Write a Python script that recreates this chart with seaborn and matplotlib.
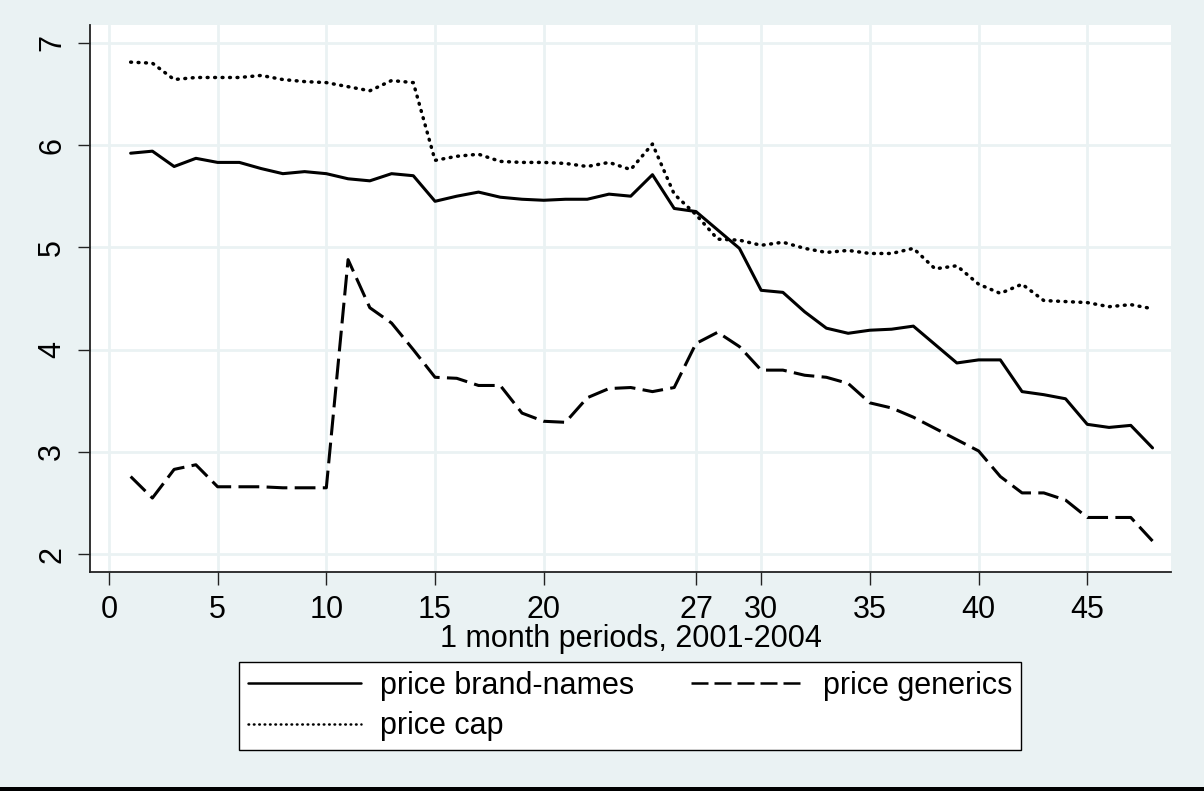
import matplotlib
matplotlib.use("Agg")
import matplotlib.pyplot as plt
import seaborn as sns
import pandas as pd

# monthly prices, 2001-2004
periods = list(range(1, 49))
price_brand = [5.92, 5.94, 5.79, 5.87, 5.83, 5.83, 5.77, 5.72, 5.74, 5.72,
               5.67, 5.65, 5.72, 5.70, 5.45, 5.50, 5.54, 5.49, 5.47, 5.46,
               5.47, 5.47, 5.52, 5.50, 5.71, 5.38, 5.35, 5.17, 4.99, 4.58,
               4.56, 4.37, 4.21, 4.16, 4.19, 4.20, 4.23, 4.05, 3.87, 3.90,
               3.90, 3.59, 3.56, 3.52, 3.27, 3.24, 3.26, 3.04]
price_generics = [2.76, 2.55, 2.83, 2.875, 2.66, 2.66, 2.66, 2.65, 2.65, 2.65,
                  4.88, 4.41, 4.26, 4.00, 3.73, 3.72, 3.65, 3.65, 3.38, 3.30,
                  3.29, 3.53, 3.62, 3.63, 3.59, 3.63, 4.06, 4.17, 4.03, 3.80,
                  3.80, 3.75, 3.73, 3.67, 3.48, 3.43, 3.34, 3.23, 3.12, 3.01,
                  2.76, 2.60, 2.60, 2.53, 2.36, 2.36, 2.36, 2.13]
price_cap = [6.81, 6.80, 6.64, 6.66, 6.66, 6.66, 6.68, 6.64, 6.62, 6.61,
             6.57, 6.53, 6.63, 6.61, 5.85, 5.89, 5.91, 5.84, 5.83, 5.83,
             5.82, 5.79, 5.83, 5.76, 6.01, 5.52, 5.32, 5.08, 5.07, 5.02,
             5.05, 4.99, 4.95, 4.97, 4.94, 4.94, 4.99, 4.79, 4.82, 4.64,
             4.55, 4.64, 4.48, 4.47, 4.46, 4.42, 4.44, 4.40]

x_ticks = [0, 5, 10, 15, 20, 27, 30, 35, 40, 45]
y_ticks = [2, 3, 4, 5, 6, 7]

df = pd.DataFrame({"period": periods, "brand": price_brand,
                   "generics": price_generics, "cap": price_cap})

bg = "#EAF2F3"
sns.set_theme(style="white")
plt.rcParams["font.family"] = ["Liberation Sans", "DejaVu Sans"]
plt.rcParams["font.size"] = 22
plt.rcParams["text.color"] = "black"
plt.rcParams["axes.labelcolor"] = "black"
plt.rcParams["xtick.color"] = "#222222"
plt.rcParams["ytick.color"] = "#222222"
plt.rcParams["xtick.labelcolor"] = "black"
plt.rcParams["ytick.labelcolor"] = "black"

fig = plt.figure(figsize=(12.04, 7.91), dpi=100, facecolor=bg)
W, H = 1204, 791
ax = fig.add_axes([90 / W, 1 - 572 / H, (1171 - 90) / W, (572 - 25) / H])
ax.set_facecolor("white")

sns.lineplot(data=df, x="period", y="brand", ax=ax, color="black",
             lw=2.2, legend=False)
l1 = ax.lines[-1]
sns.lineplot(data=df, x="period", y="generics", ax=ax, color="black",
             lw=2.2, legend=False)
l2 = ax.lines[-1]
l2.set_dashes((6.8, 2.4))
sns.lineplot(data=df, x="period", y="cap", ax=ax, color="black",
             lw=2.5, legend=False)
l3 = ax.lines[-1]
l3.set_dashes((0.25, 1.9))
l3.set_dash_capstyle("round")

ax.set_xlim(-0.87, 48.85)
ax.set_ylim(1.827, 7.173)
ax.set_xticks(x_ticks)
ax.set_yticks(y_ticks)
ax.set_xlabel("1 month periods, 2001-2004", fontsize=22, labelpad=-1)
ax.set_ylabel("")
ax.grid(True, color=bg, lw=2)
ax.set_axisbelow(True)
for s in ["top", "right"]:
    ax.spines[s].set_visible(False)
for s in ["left", "bottom"]:
    ax.spines[s].set_color("#222222")
    ax.spines[s].set_linewidth(1.3)
ax.tick_params(axis="both", which="major", direction="out", length=9,
               width=1, labelsize=22, pad=7.5, left=True, bottom=True)
for lab in ax.get_yticklabels():
    lab.set_rotation(90)
    lab.set_va("center")

# legend filled column-wise: brand, cap | generics  -> rows: brand generics / cap
leg = fig.legend([l1, l3, l2], ["price brand-names", "price cap", "price generics"],
                 loc="upper left", ncol=2, mode="expand",
                 bbox_to_anchor=(239 / W, 1 - 748 / H, (1021 - 239) / W, 86 / H),
                 fontsize=22, handlelength=3.7, handletextpad=0.62,
                 labelspacing=0.35, borderpad=0.28, borderaxespad=0,
                 fancybox=False, framealpha=1, edgecolor="black")
leg.get_frame().set_linewidth(1)
for h in leg.legend_handles:
    h.set_linewidth(1.8)

# thick rule along the bottom edge of the graph region
fig.add_artist(plt.Rectangle((0, 0), 1, 4 / H, transform=fig.transFigure,
                             color="black", lw=0))

fig.savefig("out.png", dpi=100, facecolor=bg)
